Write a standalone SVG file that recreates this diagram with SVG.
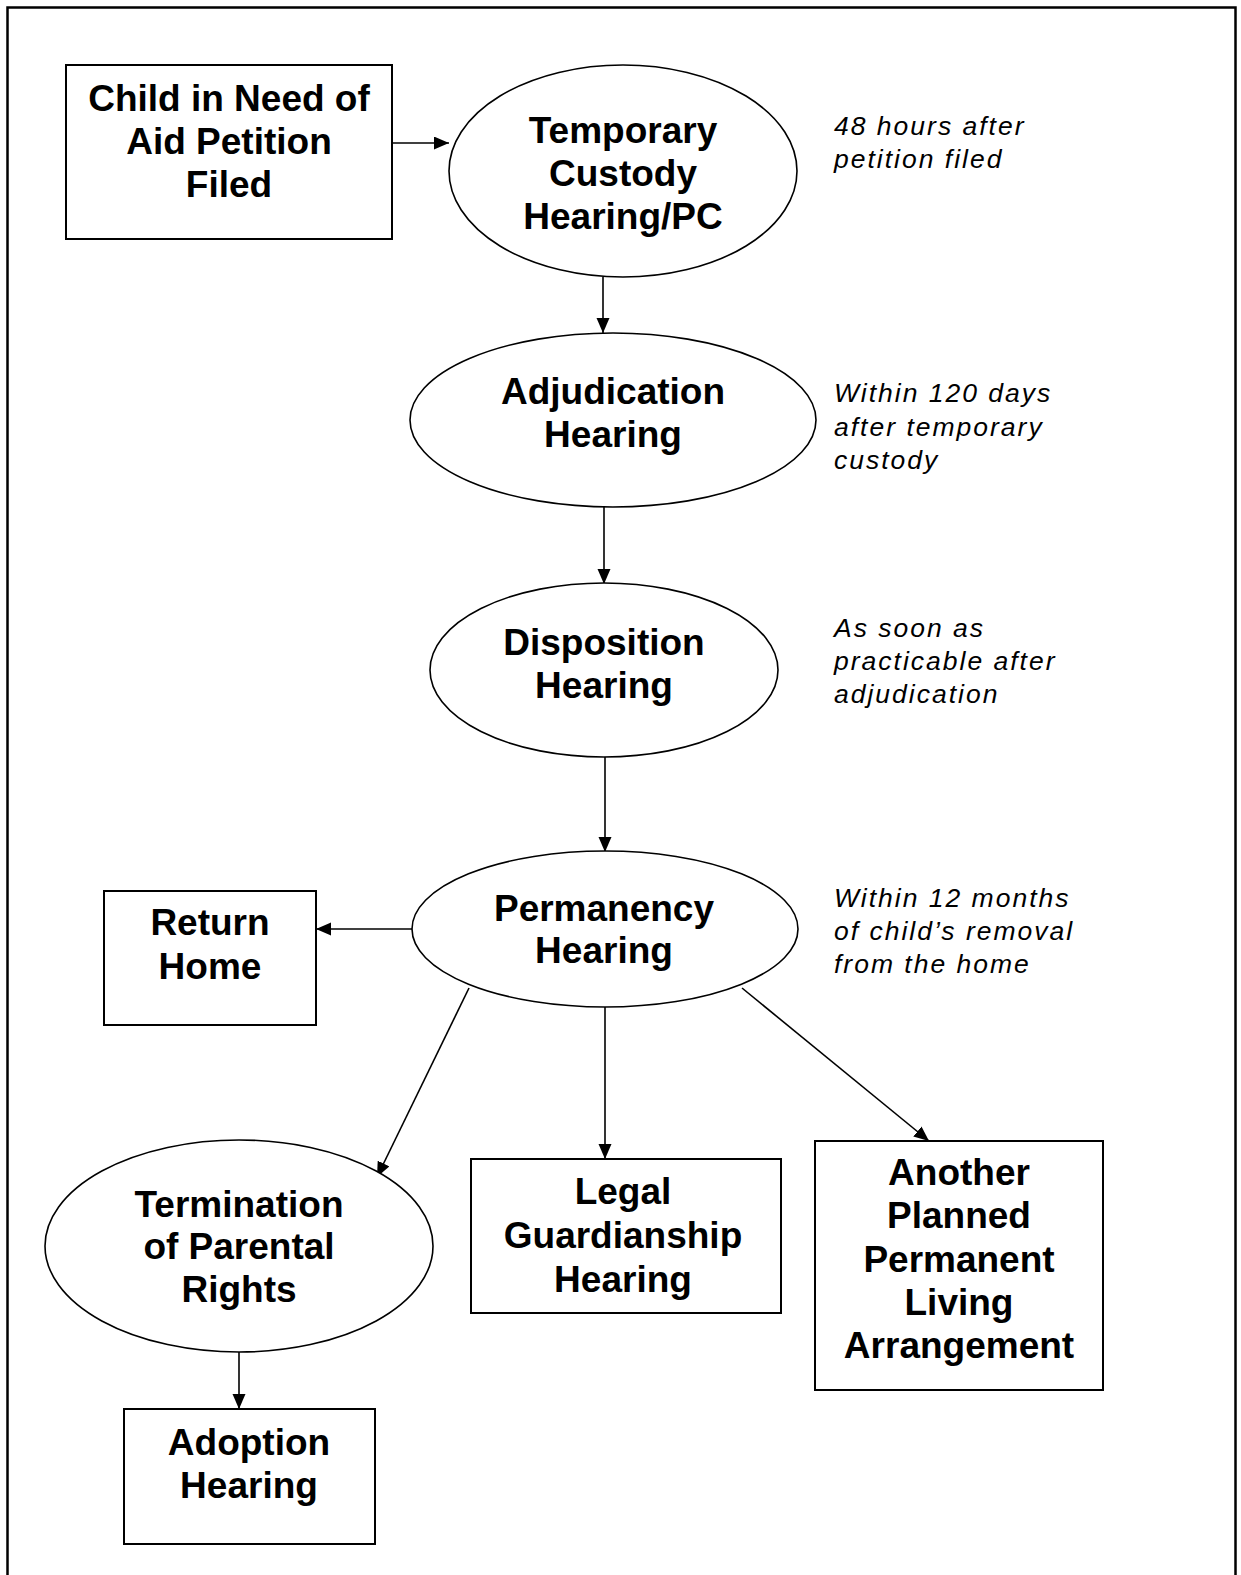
<svg xmlns="http://www.w3.org/2000/svg" width="1241" height="1575" viewBox="0 0 1241 1575">
<defs>
<marker id="ah" markerUnits="userSpaceOnUse" markerWidth="16" markerHeight="14" refX="15" refY="6.5" orient="auto">
<path d="M0,0 L15,6.5 L0,13 z" fill="#000"/>
</marker>
<style>
.box{fill:#fff;stroke:#000;stroke-width:2}
.ell{fill:#fff;stroke:#000;stroke-width:1.6}
.lbl{font-family:"Liberation Sans",Arial,sans-serif;font-weight:bold;font-size:37px;text-anchor:middle;fill:#000}
.note{font-family:"Liberation Sans",Arial,sans-serif;font-style:italic;font-size:26.5px;letter-spacing:2px;fill:#000}
.con{stroke:#000;stroke-width:1.6;fill:none;marker-end:url(#ah)}
</style>
</defs>
<rect x="0" y="0" width="1241" height="1575" fill="#fff"/>
<rect x="7.5" y="7.5" width="1228" height="1580" fill="none" stroke="#000" stroke-width="2.5"/>

<g id="connectors">
<line class="con" x1="392" y1="143" x2="449" y2="143"/>
<line class="con" x1="603" y1="277" x2="603" y2="333"/>
<line class="con" x1="604" y1="507" x2="604" y2="584"/>
<line class="con" x1="605" y1="757" x2="605" y2="852"/>
<line class="con" x1="412" y1="929" x2="316" y2="929"/>
<line class="con" x1="469" y1="988" x2="377" y2="1177"/>
<line class="con" x1="605" y1="1007" x2="605" y2="1159"/>
<line class="con" x1="742" y1="988" x2="929" y2="1141"/>
<line class="con" x1="239" y1="1352" x2="239" y2="1409"/>
</g>

<g id="n-petition">
<rect class="box" x="66" y="65" width="326" height="174"/>
<text class="lbl" x="229" y="111">Child in Need of</text>
<text class="lbl" x="229" y="154">Aid Petition</text>
<text class="lbl" x="229" y="197">Filed</text>
</g>

<g id="n-temporary">
<ellipse class="ell" cx="623" cy="171" rx="174" ry="106"/>
<text class="lbl" x="623" y="143">Temporary</text>
<text class="lbl" x="623" y="186">Custody</text>
<text class="lbl" x="623" y="229">Hearing/PC</text>
</g>

<g id="note-temporary">
<text class="note" x="834" y="135">48 hours after</text>
<text class="note" x="834" y="168">petition filed</text>
</g>

<g id="n-adjudication">
<ellipse class="ell" cx="613" cy="420" rx="203" ry="87"/>
<text class="lbl" x="613" y="404">Adjudication</text>
<text class="lbl" x="613" y="447">Hearing</text>
</g>

<g id="note-adjudication">
<text class="note" x="834" y="402">Within 120 days</text>
<text class="note" x="834" y="436">after temporary</text>
<text class="note" x="834" y="469">custody</text>
</g>

<g id="n-disposition">
<ellipse class="ell" cx="604" cy="670" rx="174" ry="87"/>
<text class="lbl" x="604" y="655">Disposition</text>
<text class="lbl" x="604" y="698">Hearing</text>
</g>

<g id="note-disposition">
<text class="note" x="834" y="637">As soon as</text>
<text class="note" x="834" y="670">practicable after</text>
<text class="note" x="834" y="703">adjudication</text>
</g>

<g id="n-permanency">
<ellipse class="ell" cx="605" cy="929" rx="193" ry="78"/>
<text class="lbl" x="604" y="921">Permanency</text>
<text class="lbl" x="604" y="963">Hearing</text>
</g>

<g id="note-permanency">
<text class="note" x="834" y="907">Within 12 months</text>
<text class="note" x="834" y="940">of child’s removal</text>
<text class="note" x="834" y="973">from the home</text>
</g>

<g id="n-return">
<rect class="box" x="104" y="891" width="212" height="134"/>
<text class="lbl" x="210" y="935">Return</text>
<text class="lbl" x="210" y="979">Home</text>
</g>

<g id="n-termination">
<ellipse class="ell" cx="239" cy="1246" rx="194" ry="106"/>
<text class="lbl" x="239" y="1217">Termination</text>
<text class="lbl" x="239" y="1259">of Parental</text>
<text class="lbl" x="239" y="1302">Rights</text>
</g>

<g id="n-legal">
<rect class="box" x="471" y="1159" width="310" height="154"/>
<text class="lbl" x="623" y="1204">Legal</text>
<text class="lbl" x="623" y="1248">Guardianship</text>
<text class="lbl" x="623" y="1292">Hearing</text>
</g>

<g id="n-another">
<rect class="box" x="815" y="1141" width="288" height="249"/>
<text class="lbl" x="959" y="1185">Another</text>
<text class="lbl" x="959" y="1228">Planned</text>
<text class="lbl" x="959" y="1272">Permanent</text>
<text class="lbl" x="959" y="1315">Living</text>
<text class="lbl" x="959" y="1358">Arrangement</text>
</g>

<g id="n-adoption">
<rect class="box" x="124" y="1409" width="251" height="135"/>
<text class="lbl" x="249" y="1455">Adoption</text>
<text class="lbl" x="249" y="1498">Hearing</text>
</g>
</svg>
